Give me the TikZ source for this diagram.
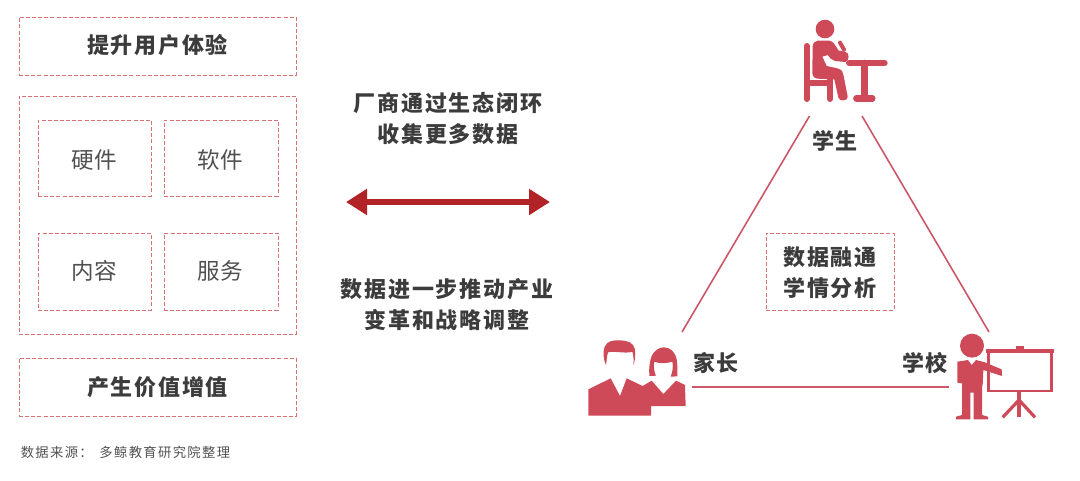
\documentclass[tikz,border=0pt]{standalone}
\usepackage{fontspec}
\usetikzlibrary{arrows.meta}
\newfontfamily\cjkb[LetterSpace=8]{Noto Sans CJK SC Bold}
\newfontfamily\cjkr[LetterSpace=4]{Noto Sans CJK SC}
\newfontfamily\cjks[LetterSpace=10]{Noto Sans CJK SC}
\definecolor{dashc}{HTML}{DB7272}
\definecolor{iconc}{HTML}{CF4A58}
\definecolor{linec}{HTML}{CC5766}
\definecolor{arrc}{HTML}{B12327}
\definecolor{txt}{HTML}{3C3C3C}
\definecolor{txtr}{HTML}{505050}
\tikzset{
  dbox/.style={draw=dashc,dash pattern=on 3pt off 1.6pt,line width=0.65pt,inner sep=0pt,outer sep=0pt,text=txt},
  bt/.style={font=\cjkb\bfseries\fontsize{16.5pt}{18pt}\selectfont,text=txt,inner sep=0pt},
  rt/.style={font=\cjkr\fontsize{16.9pt}{18pt}\selectfont,text=txtr,inner sep=0pt},
  st/.style={font=\cjks\fontsize{10pt}{12pt}\selectfont,text=txtr,inner sep=0pt,anchor=west},
  tri/.style={draw=linec,line width=1.2pt},
  ic/.style={fill=iconc,draw=none},
  icl/.style={draw=iconc,line cap=round,line join=round},
}
\begin{document}
\begin{tikzpicture}[x=0.75pt,y=-0.75pt]
\useasboundingbox (0,0) rectangle (1080,480);
% left boxes
\node[dbox,minimum width=207.75pt,minimum height=43.5pt] (top) at (157.5,46) {};
\node[bt] (topt) at (157.5,45.5) {提升用户体验};
\node[dbox,minimum width=207.75pt,minimum height=178.5pt] (mid) at (157.5,215) {};
\node[dbox,minimum width=84.75pt,minimum height=57pt] (hw) at (94.5,158) {};
\node[rt] (hwt) at (94.5,159.5) {硬件};
\node[dbox,minimum width=85.5pt,minimum height=57pt] (sw) at (221,158) {};
\node[rt] (swt) at (220.5,159.5) {软件};
\node[dbox,minimum width=84.75pt,minimum height=57.75pt] (ct) at (94.5,271.5) {};
\node[rt] (ctt) at (94.5,270.5) {内容};
\node[dbox,minimum width=85.5pt,minimum height=57.75pt] (sv) at (221,271.5) {};
\node[rt] (svt) at (220.5,270.5) {服务};
\node[dbox,minimum width=207.75pt,minimum height=43.5pt] (bot) at (157.5,387) {};
\node[bt] (bott) at (157.5,387) {产生价值增值};
\node[st] (src) at (20.5,452.5) {数据来源：\hspace{0.5em}多鲸教育研究院整理};
% middle
\node[bt] (m1) at (448,103.5) {厂商通过生态闭环};
\node[bt] (m2) at (448,134.5) {收集更多数据};
\node[bt] (m3) at (447,289.5) {数据进一步推动产业};
\node[bt] (m4) at (447,320.5) {变革和战略调整};
\coordinate (al) at (346,202);
\coordinate (ar) at (550,202);
\draw[arrc,line width=4.5pt,{Triangle[length=15.75pt,width=18.75pt]}-{Triangle[length=15.75pt,width=18.75pt]}] (al) -- (ar);
% triangle
\coordinate (t1) at (809.5,116);
\coordinate (t2) at (682,332);
\coordinate (t3) at (862,116);
\coordinate (t4) at (989,332);
\coordinate (t5) at (692,387);
\coordinate (t6) at (949,387);
\draw[tri] (t1) -- (t2);
\draw[tri] (t3) -- (t4);
\draw[tri] (t5) -- (t6);
\node[bt] (stu) at (835,141) {学生};
\node[bt] (par) at (716,362.5) {家长};
\node[bt] (sch) at (925,362.5) {学校};
\node[dbox,minimum width=96pt,minimum height=57.75pt] (ctr) at (830,271.5) {};
\node[bt] (c1) at (830,257.5) {数据融通};
\node[bt] (c2) at (830,288.5) {学情分析};
% student icon
\begin{scope}[shift={(780,0)},x=0.25pt,y=-0.25pt]
\fill[ic] (135,87) circle (28);
\draw[icl,line width=4.5pt] (80,138) -- (80,297);
\draw[icl,line width=4.5pt] (151,240) -- (151,297);
\draw[iconc,line width=4.4pt] (82,250) -- (151,250);
\fill[ic] (112,122) -- (148,122) .. controls (160,124) and (166,136) .. (176,152) -- (196,155) .. controls (209,158) and (209,183) .. (196,186) -- (165,183) .. controls (155,181) and (148,172) .. (143,165) -- (127,170) -- (140,198) -- (172,205) .. controls (186,208) and (190,218) .. (191,228) -- (203,290) .. controls (205,303) and (178,306) .. (175,293) -- (163,238) -- (112,236) .. controls (100,234) and (96,225) .. (97,212) -- (98,140) .. controls (98,130) and (104,123) .. (112,122) -- cycle;
\draw[icl,line width=3pt] (180,128) -- (192,149);
\draw[icl,line width=5pt] (208,189) -- (313,189);
\draw[icl,line width=5pt] (253,189) -- (253,295);
\draw[icl,line width=4.8pt] (229,295) -- (277,295);
\end{scope}
% parents icon
\begin{scope}[shift={(570,320)},x=0.25pt,y=-0.25pt]
\fill[ic] (55,287) -- (55,208) -- (122,175) -- (150,228) -- (170,175) -- (218,198) -- (245,182) -- (280,222) -- (318,182) -- (345,195) -- (347,258) -- (243,258) -- (243,287) -- cycle;
\fill[ic] (108,135) .. controls (100,120) and (98,95) .. (104,80) .. controls (112,62) and (130,60) .. (150,61) .. controls (175,62) and (190,68) .. (195,88) .. controls (197,105) and (195,125) .. (190,135) .. controls (192,120) and (190,105) .. (187,95) .. controls (165,102) and (135,92) .. (114,97) .. controls (110,110) and (110,125) .. (108,135) -- cycle;
\fill[ic] (238,168) .. controls (236,145) and (240,120) .. (245,108) .. controls (255,88) and (270,82) .. (282,82) .. controls (300,82) and (315,95) .. (320,118) .. controls (323,135) and (322,155) .. (322,169) -- (302,170) .. controls (308,155) and (310,140) .. (307,125) .. controls (290,130) and (270,132) .. (253,125) .. controls (250,140) and (252,155) .. (258,167) -- cycle;
\end{scope}
% teacher icon
\begin{scope}[shift={(900,320)},x=0.25pt,y=-0.25pt]
\fill[ic] (216,77) circle (36);
\fill[ic] (172,125) -- (204,120) -- (215,135) -- (228,120) -- (252,126) -- (305,148) -- (306,168) -- (250,150) -- (248,195) -- (246,200) -- (246,285) -- (264,290) -- (264,298) -- (221,298) -- (221,218) -- (211,218) -- (211,298) -- (168,298) -- (168,290) -- (186,285) -- (186,190) -- (172,188) -- cycle;
\draw[iconc,line width=2pt] (266,93) rectangle (455,213);
\fill[ic] (258,87) rectangle (463,99);
\fill[ic] (348,77) rectangle (371,88);
\draw[iconc,line width=2.4pt] (357,213) -- (357,292);
\draw[iconc,line width=2.4pt] (357,240) -- (308,292);
\draw[iconc,line width=2.4pt] (357,240) -- (405,292);
\end{scope}
\end{tikzpicture}
\end{document}
